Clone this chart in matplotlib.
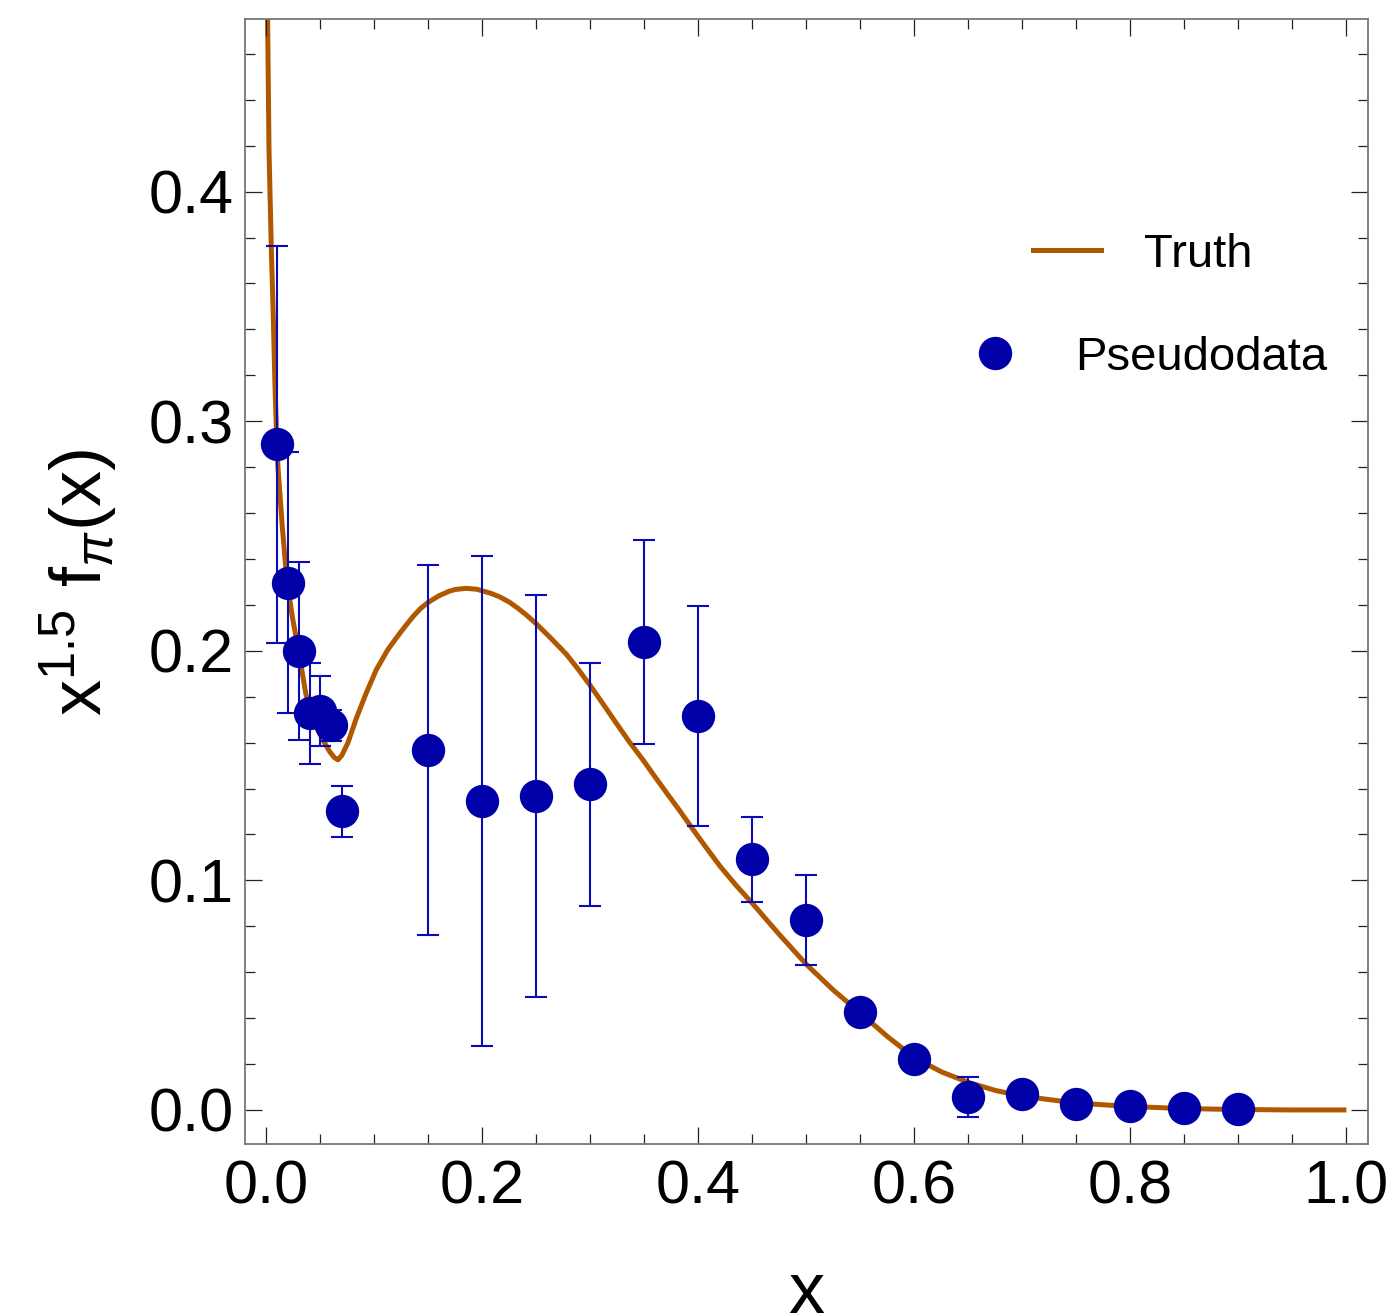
import matplotlib
matplotlib.use('Agg')
import matplotlib.pyplot as plt
from matplotlib.ticker import MultipleLocator, FormatStrFormatter
from matplotlib.lines import Line2D

plt.rcParams['font.family'] = ['Liberation Sans', 'DejaVu Sans']
plt.rcParams['mathtext.fontset'] = 'custom'
plt.rcParams['mathtext.rm'] = 'Liberation Sans'
plt.rcParams['mathtext.it'] = 'Liberation Sans:italic'
plt.rcParams['mathtext.bf'] = 'Liberation Sans:bold'

# ---------------- data ----------------
truth_x = [0.0011, 0.0025, 0.0034, 0.0046, 0.0065, 0.0080, 0.0093, 0.0108, 0.0148, 0.0188,
           0.0240, 0.0299, 0.0367, 0.0450, 0.0524, 0.0586, 0.0630, 0.0663, 0.0700, 0.0756,
           0.0833, 0.0920, 0.1018, 0.1125, 0.1234, 0.1300, 0.1360, 0.1430, 0.1496, 0.1600,
           0.1697, 0.1750, 0.1850, 0.1950, 0.2080, 0.2160, 0.2250, 0.2330, 0.2410, 0.2494,
           0.2630, 0.2778, 0.2890, 0.3000, 0.3120, 0.3241, 0.3360, 0.3487, 0.3600, 0.3700,
           0.3830, 0.3950, 0.4080, 0.4200, 0.4350, 0.4500, 0.4750, 0.5000, 0.5250, 0.5500,
           0.5750, 0.6000, 0.6250, 0.6500, 0.6750, 0.7000, 0.7500, 0.8000, 0.8500, 0.9000,
           0.9500, 1.0000]
truth_y = [0.480, 0.418, 0.400, 0.376, 0.345, 0.316, 0.297, 0.280, 0.254, 0.232,
           0.215, 0.200, 0.181, 0.168, 0.1612, 0.1561, 0.1535, 0.1525, 0.1545, 0.1600,
           0.1705, 0.1810, 0.1917, 0.2005, 0.2075, 0.2115, 0.2150, 0.2185, 0.2210, 0.2240,
           0.2260, 0.2267, 0.2272, 0.2268, 0.2250, 0.2235, 0.2212, 0.2185, 0.2155, 0.2120,
           0.2057, 0.1985, 0.1918, 0.1848, 0.1767, 0.1684, 0.1604, 0.1525, 0.1450, 0.1385,
           0.1302, 0.1222, 0.1138, 0.1062, 0.0978, 0.0900, 0.0764, 0.0634, 0.0522, 0.0422,
           0.0320, 0.0228, 0.0166, 0.0120, 0.0085, 0.0060, 0.0030, 0.0015, 0.0006, 0.0002,
           0.0000, 0.0000]

data_x = [0.01, 0.02, 0.03, 0.04, 0.05, 0.06, 0.07, 0.15, 0.20, 0.25, 0.30, 0.35,
          0.40, 0.45, 0.50, 0.55, 0.60, 0.65, 0.70, 0.75, 0.80, 0.85, 0.90]
data_y = [0.2900, 0.2297, 0.1999, 0.1727, 0.1738, 0.1676, 0.1301, 0.1567, 0.1345, 0.1367,
          0.1418, 0.2038, 0.1716, 0.1092, 0.0827, 0.0425, 0.0222, 0.0057, 0.0068, 0.0027,
          0.0018, 0.0007, 0.0005]
data_err = [0.0865, 0.0570, 0.0386, 0.0220, 0.0152, 0.0068, 0.0110, 0.0807, 0.1066, 0.0875,
            0.0530, 0.0445, 0.0480, 0.0185, 0.0197, 0.0050, 0.0040, 0.0086, 0.0030, 0.0020,
            0.0020, 0.0020, 0.0020]

x_ticks = [0.0, 0.2, 0.4, 0.6, 0.8, 1.0]
y_ticks = [0.0, 0.1, 0.2, 0.3, 0.4]

legend_truth = 'Truth'
legend_data = 'Pseudodata'

# ---------------- style ----------------
W, H, DPI = 1393, 1316, 100
curve_color = '#B05800'
point_color = '#0000A8'
err_color = '#0A0AB8'

fig = plt.figure(figsize=(W / DPI, H / DPI), dpi=DPI)
ax_l, ax_r, ax_t, ax_b = 244.7, 1368.0, 19.4, 1144.4
ax = fig.add_axes([ax_l / W, 1 - ax_b / H, (ax_r - ax_l) / W, (ax_b - ax_t) / H])

ax.plot(truth_x, truth_y, color=curve_color, lw=3.6, zorder=1,
        solid_joinstyle='round', solid_capstyle='butt')
ax.errorbar(data_x, data_y, yerr=data_err, fmt='none', ecolor=err_color,
            elinewidth=1.5, capsize=8, capthick=1.5, zorder=2)
ax.plot(data_x, data_y, 'o', color=point_color, ms=24, mec='none', zorder=3)

ax.set_xlim(-0.02, 1.02)
ax.set_ylim(-0.015, 0.475)
ax.set_xticks(x_ticks)
ax.set_yticks(y_ticks)
ax.xaxis.set_major_formatter(FormatStrFormatter('%.1f'))
ax.yaxis.set_major_formatter(FormatStrFormatter('%.1f'))
ax.xaxis.set_minor_locator(MultipleLocator(0.05))
ax.yaxis.set_minor_locator(MultipleLocator(0.02))

ax.tick_params(which='both', direction='in', top=True, right=True, color='#222222')
ax.tick_params(which='major', length=12, width=0.9)
ax.tick_params(which='minor', length=7, width=0.9)
ax.tick_params(axis='x', which='major', labelsize=44, pad=11)
ax.tick_params(axis='y', which='major', labelsize=44, pad=8)
for sp in ax.spines.values():
    sp.set_color('#777777')
    sp.set_linewidth(1.3)

ax.set_xlabel('x', fontsize=52, va='baseline')
ax.xaxis.set_label_coords(0.5, (ax_b - 1313) / (ax_b - ax_t))
ax.set_ylabel(r'$\mathrm{x}^{1.5}\ \mathrm{f}_{\pi}(\mathrm{x})$', fontsize=52, va='baseline')
ax.yaxis.set_label_coords((102 - ax_l) / (ax_r - ax_l), 0.5)

fs = 34
em = fs * DPI / 72.0
leg1 = ax.legend(handles=[Line2D([], [], color=curve_color, lw=3.6)], labels=[legend_truth],
                 loc='center left', bbox_to_anchor=(1033 / W, 1 - 255 / H),
                 bbox_transform=fig.transFigure, frameon=False, fontsize=fs,
                 handlelength=68 / em, handletextpad=43 / em, borderpad=0, borderaxespad=0)
ax.add_artist(leg1)
leg2 = ax.legend(handles=[Line2D([], [], ls='none', marker='o', ms=24, color=point_color, mec='none')],
                 labels=[legend_data], numpoints=1,
                 loc='center left', bbox_to_anchor=(961 / W, 1 - 358 / H),
                 bbox_transform=fig.transFigure, frameon=False, fontsize=fs,
                 handlelength=68 / em, handletextpad=46 / em, borderpad=0, borderaxespad=0)

fig.savefig('out.png', dpi=DPI)
